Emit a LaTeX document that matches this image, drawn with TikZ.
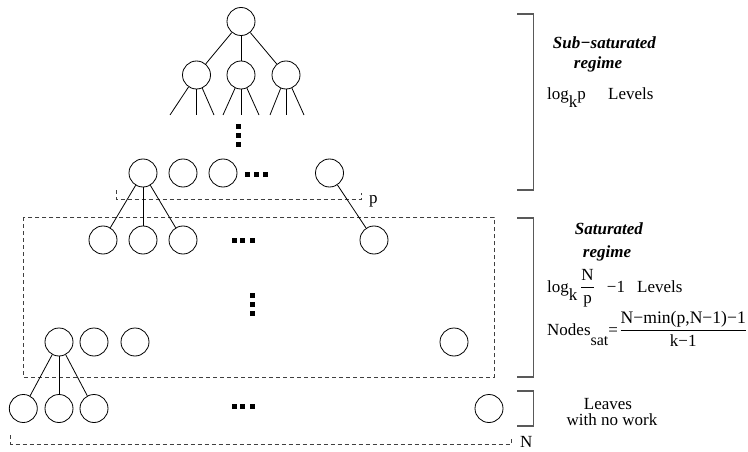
\documentclass[tikz,border=0pt]{standalone}
\usepackage{fontspec}
\setmainfont{Liberation Serif}
\begin{document}
\begin{tikzpicture}[x=1pt,y=-1pt,
  nd/.style={circle,draw,line width=0.8pt,minimum size=28pt,inner sep=0pt},
  edge/.style={line width=0.8pt},
  dsh/.style={draw=black!75,line width=0.8pt,dash pattern=on 4pt off 3pt},
  brk/.style={draw=black!65,line width=1.1pt},
  dot/.style={rectangle,fill=black,minimum size=5pt,inner sep=0pt},
  lbl/.style={inner sep=0pt,font=\fontsize{17}{20}\selectfont},
]
\useasboundingbox (0,0) rectangle (748,452);

% top tree
\node[nd] (r) at (241,21.5) {};
\node[nd] (a1) at (196.5,75) {};
\node[nd] (a2) at (241,75) {};
\node[nd] (a3) at (286,75) {};
\draw[edge] (r) -- (a1);
\draw[edge] (r) -- (a2);
\draw[edge] (r) -- (a3);
\coordinate (s11) at (170,115);
\coordinate (s12) at (196.5,115);
\coordinate (s13) at (214,115);
\coordinate (s21) at (223,115);
\coordinate (s22) at (241,115);
\coordinate (s23) at (259,115);
\coordinate (s31) at (270,115);
\coordinate (s32) at (286,115);
\coordinate (s33) at (304,115);
\foreach \p/\s in {a1/s11,a1/s12,a1/s13,a2/s21,a2/s22,a2/s23,a3/s31,a3/s32,a3/s33}
  \draw[edge] (\p) -- (\s);
\node[dot] (v1) at (238.5,126.5) {};
\node[dot] (v2) at (238.5,135.2) {};
\node[dot] (v3) at (238.5,144.2) {};

% row 3
\node[nd] (b1) at (143,173) {};
\node[nd] (b2) at (183,173) {};
\node[nd] (b3) at (223,173) {};
\node[nd] (bL) at (329.5,173) {};
\node[dot] (h1) at (247.5,174) {};
\node[dot] (h2) at (256,174) {};
\node[dot] (h3) at (265,174) {};

% p bracket
\draw[dsh] (116,190) -- (116,199.3) -- (361.7,199.3) -- (361.7,193);
\node[lbl,anchor=base west] (plbl) at (369,203) {p};

% saturated box
\draw[dsh] (23.3,217.3) rectangle (494.3,377.3);

% row 4
\node[nd] (c1) at (103,240) {};
\node[nd] (c2) at (143,240) {};
\node[nd] (c3) at (183,240) {};
\node[nd] (cL) at (374,240) {};
\draw[edge] (b1) -- (c1);
\draw[edge] (b1) -- (c2);
\draw[edge] (b1) -- (c3);
\draw[edge] (bL) -- (cL);
\node[dot] (i1) at (234,240.8) {};
\node[dot] (i2) at (242.5,240.8) {};
\node[dot] (i3) at (252,240.8) {};

\node[dot] (w1) at (252,295) {};
\node[dot] (w2) at (252,304) {};
\node[dot] (w3) at (252,313) {};

% row 5
\node[nd] (d1) at (59,342) {};
\node[nd] (d2) at (94,342) {};
\node[nd] (d3) at (135,342) {};
\node[nd] (dL) at (454,342) {};

% row 6
\node[nd] (e1) at (23.3,408.5) {};
\node[nd] (e2) at (59,408.5) {};
\node[nd] (e3) at (94,408.5) {};
\node[nd] (eL) at (489,408.5) {};
\draw[edge] (d1) -- (e1);
\draw[edge] (d1) -- (e2);
\draw[edge] (d1) -- (e3);
\node[dot] (j1) at (234,406.8) {};
\node[dot] (j2) at (242.5,406.8) {};
\node[dot] (j3) at (252,406.8) {};

% N bracket
\draw[dsh] (10.7,435) -- (10.7,444) -- (511.7,444) -- (511.7,439);
\node[lbl,anchor=base west] (nlbl) at (520,447) {N};

% right brackets
\draw[brk] (517,14) -- (533.5,14) -- (533.5,190) -- (517,190);
\draw[brk] (517,218) -- (533.5,218) -- (533.5,377) -- (517,377);
\draw[brk] (517,391) -- (533.5,391) -- (533.5,426) -- (517,426);

% texts
\node[lbl,anchor=base] (t1) at (604.5,49) {\textbf{\textit{Sub−saturated}}};
\node[lbl,anchor=base] (t2) at (598,69) {\textbf{\textit{regime}}};
\node[lbl,anchor=base west] (t3) at (547,100) {log\raisebox{-8pt}{k}p};
\node[lbl,anchor=base west] (t4) at (608,100) {Levels};
\node[lbl,anchor=base] (t5) at (609,234) {\textbf{\textit{Saturated}}};
\node[lbl,anchor=base] (t6) at (607,257) {\textbf{\textit{regime}}};
\node[lbl,anchor=base west] (t7) at (547,292) {log\raisebox{-8pt}{k}\,$\displaystyle\frac{\mbox{N}}{\mbox{p}}$\hspace{12pt}−1};
\node[lbl,anchor=base west] (t8) at (637,292) {Levels};
\node[lbl,anchor=base west] (t9) at (547,335) {Nodes\raisebox{-10pt}{\fontsize{16}{18}\selectfont sat}=\hspace{1.5pt}$\displaystyle\frac{\mbox{\fontsize{17.6}{20}\selectfont N−min(p,N−1)−1}}{\mbox{k−1}}$};
\node[lbl,anchor=base] (t10) at (608,409) {Leaves};
\node[lbl,anchor=base] (t11) at (612,425) {with no work};
\end{tikzpicture}
\end{document}
